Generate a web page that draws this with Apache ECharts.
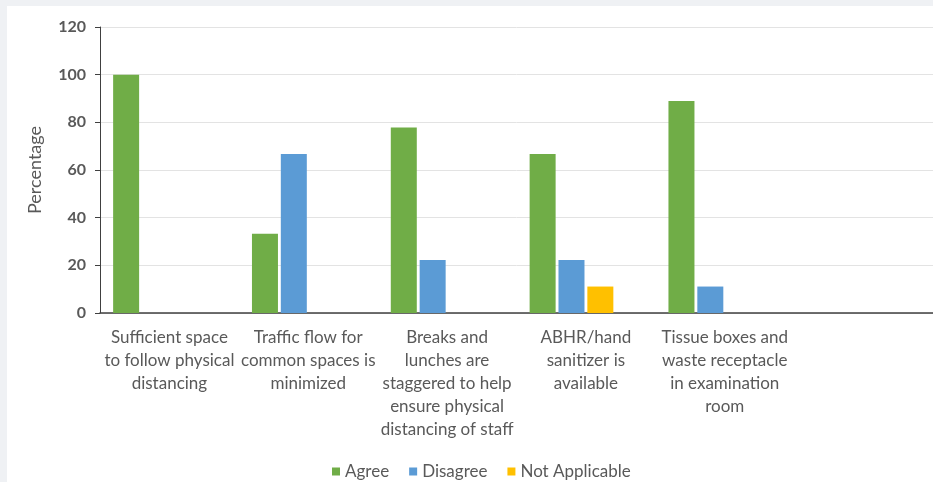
<!DOCTYPE html>
<html>
<head>
<meta charset="utf-8">
<script src="https://cdn.jsdelivr.net/npm/echarts@6/dist/echarts.min.js"></script>
<style>
  html, body { margin: 0; padding: 0; background: #eff1f4; }
  #main { position: absolute; left: 7px; top: 6px; width: 926px; height: 476px; background: #fff; }
</style>
</head>
<body>
<div id="main"></div>
<script>
// categories (last slot is empty in the source chart)
var categories = [
  'Sufficient space\nto follow physical\ndistancing',
  'Traffic flow for\ncommon spaces is\nminimized',
  'Breaks and\nlunches are\nstaggered to help\nensure physical\ndistancing of staff',
  'ABHR/hand\nsanitizer is\navailable',
  'Tissue boxes and\nwaste receptacle\nin examination\nroom',
  ''
]
var agree = [100, 33.3, 77.8, 66.7, 88.9, null]
var disagree = [null, 66.7, 22.2, 22.2, 11.1, null]
var notApplicable = [null, null, null, 11.1, null, null]
var emptySeries = [null, null, null, null, null, null]

var labelColor = '#595959'
var font = 'Lato, "Open Sans", sans-serif'

var chartObj = echarts.init(document.getElementById('main'))

var option = {
  color: ['#70ad47', '#5b9bd5', '#ffc000', 'transparent'],
  textStyle: { fontFamily: font },
  legend: {
    data: ['Agree', 'Disagree', 'Not Applicable'],
    left: 320,
    top: 452,
    itemWidth: 8,
    itemHeight: 8,
    itemGap: 20,
    icon: 'rect',
    textStyle: { color: labelColor, fontSize: 17, fontFamily: font }
  },
  grid: {
    left: 93,
    right: -3,
    top: 21,
    bottom: 169
  },
  xAxis: [
    {
      type: 'category',
      data: categories,
      axisTick: { alignWithLabel: false, length: 5, lineStyle: { color: '#404040' } },
      axisLine: { lineStyle: { color: '#404040', width: 1.5 } },
      axisLabel: {
        color: labelColor,
        fontSize: 17,
        lineHeight: 23,
        margin: 13,
        interval: 0,
        fontFamily: font
      }
    },
    {
      // extra ticks at category centres, like the Excel original
      type: 'category',
      data: categories,
      position: 'bottom',
      axisTick: { alignWithLabel: true, length: 5, lineStyle: { color: '#404040' } },
      axisLine: { show: false },
      axisLabel: { show: false }
    }
  ],
  yAxis: {
    type: 'value',
    name: 'Percentage',
    nameLocation: 'middle',
    nameGap: 56,
    nameTextStyle: { color: labelColor, fontSize: 18, fontFamily: font },
    min: 0,
    max: 120,
    interval: 20,
    axisLine: { show: true, lineStyle: { color: '#404040' } },
    axisTick: { show: true, length: 5, lineStyle: { color: '#404040' } },
    axisLabel: { color: labelColor, fontSize: 16, fontWeight: 'bold', margin: 14, fontFamily: font },
    splitLine: { lineStyle: { color: '#e3e3e3' } }
  },
  series: [
    { name: 'Agree', type: 'bar', barWidth: 26, barGap: '11%', data: agree },
    { name: 'Disagree', type: 'bar', barWidth: 26, barGap: '11%', data: disagree },
    { name: 'Not Applicable', type: 'bar', barWidth: 26, barGap: '11%', data: notApplicable },
    { name: 'empty', type: 'bar', barWidth: 26, barGap: '11%', data: emptySeries }
  ]
}

chartObj.setOption(option, true)
</script>
</body>
</html>
